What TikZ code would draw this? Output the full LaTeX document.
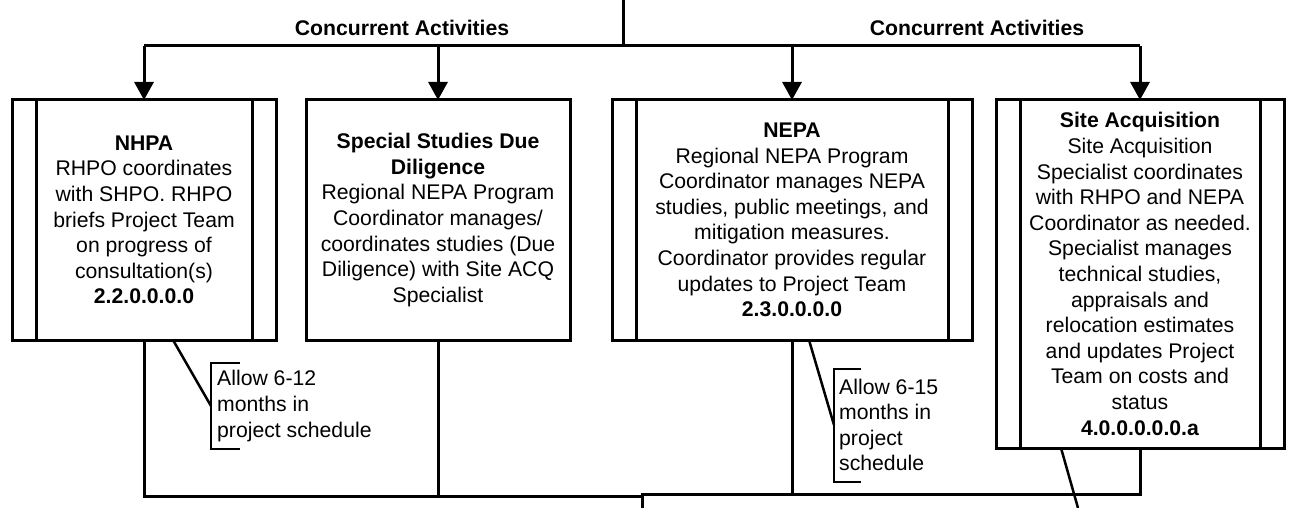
\documentclass[tikz,border=0pt]{standalone}
\usepackage{fontspec}
\setmainfont{Liberation Sans}
\usetikzlibrary{arrows.meta}

\tikzset{
  actbox/.style={draw, line width=3pt, outer sep=0pt, inner sep=0pt, align=center, minimum height=240pt},
  flow/.style={line width=3pt},
  lead/.style={line width=2.5pt},
  arr/.style={flow, -{Triangle[width=19pt,length=18pt]}},
  note/.style={anchor=west, align=left, inner sep=0pt}
}

\begin{document}
\begin{tikzpicture}[x=1pt, y=-1pt, font=\fontsize{21.2}{25.6}\selectfont]
  \path[use as bounding box, fill=white] (0,0) rectangle (1291,508);
  % activity boxes
  \node[actbox, minimum width=264pt] (nhpa) at (144,220)
    {\textbf{NHPA}\\RHPO coordinates\\with SHPO. RHPO\\briefs Project Team\\on progress of\\consultation(s)\\\textbf{2.2.0.0.0.0}};
  \node[actbox, minimum width=264pt] (ssdd) at (438,220)
    {\textbf{Special Studies Due}\\\textbf{Diligence}\\Regional NEPA Program\\Coordinator manages/\\coordinates studies (Due\\Diligence) with Site ACQ\\Specialist};
  \node[actbox, minimum width=360pt] (nepa) at (792,220)
    {\textbf{NEPA}\\Regional NEPA Program\\Coordinator manages NEPA\\studies, public meetings, and\\mitigation measures.\\Coordinator provides regular\\updates to Project Team\\\textbf{2.3.0.0.0.0}};
  \node[actbox, minimum width=288pt, minimum height=348pt] (siteacq) at (1140,274)
    {\textbf{Site Acquisition}\\Site Acquisition\\Specialist coordinates\\with RHPO and NEPA\\Coordinator as needed.\\Specialist manages\\technical studies,\\appraisals and\\relocation estimates\\and updates Project\\Team on costs and\\status\\\textbf{4.0.0.0.0.0.a}};
  \foreach \b in {nhpa, nepa, siteacq} {
    \draw[flow] ([xshift=24pt]\b.north west) -- ([xshift=24pt]\b.south west);
    \draw[flow] ([xshift=-24pt]\b.north east) -- ([xshift=-24pt]\b.south east);
  }
  % split into concurrent activities
  \coordinate (top) at (623,0);
  \coordinate (split) at (623,46);
  \node (conc1) at (402,28) {\textbf{Concurrent Activities}};
  \node (conc2) at (977,28) {\textbf{Concurrent Activities}};
  \draw[flow] (top) -- (split);
  \draw[flow] (nhpa.north |- split) -- (siteacq.north |- split);
  \foreach \b in {nhpa, ssdd, nepa, siteacq}
    \draw[arr] (\b.north |- split) -- (\b.north);
  % merge below
  \coordinate (join1) at (642,496);
  \coordinate (join2) at (642,494);
  \coordinate (out) at (642,508);
  \draw[flow] (nhpa.south) |- (join1);
  \draw[flow] (ssdd.south) -- (ssdd.south |- join1);
  \draw[flow] (siteacq.south) |- (join2) -- (out);
  \draw[flow] (nepa.south) -- (nepa.south |- join2);
  % schedule notes
  \node[note] (note1) at (217,406) {Allow 6-12\\months in\\project schedule};
  \node[note] (note2) at (839,425) {Allow 6-15\\months in\\project\\schedule};
  \coordinate (tip1) at (211,406);
  \coordinate (tip2) at (834,425);
  \coordinate (tip3) at (1078,508);
  \draw[lead] (240,363) -- (211,363) -- (211,449) -- (240,449);
  \draw[lead] (861,369) -- (834,369) -- (834,482) -- (861,482);
  \draw[lead] ([xshift=29pt]nhpa.south) -- (tip1);
  \draw[lead] ([xshift=17pt]nepa.south) -- (tip2);
  \draw[lead] ([xshift=-79pt]siteacq.south) -- (tip3);
\end{tikzpicture}
\end{document}
